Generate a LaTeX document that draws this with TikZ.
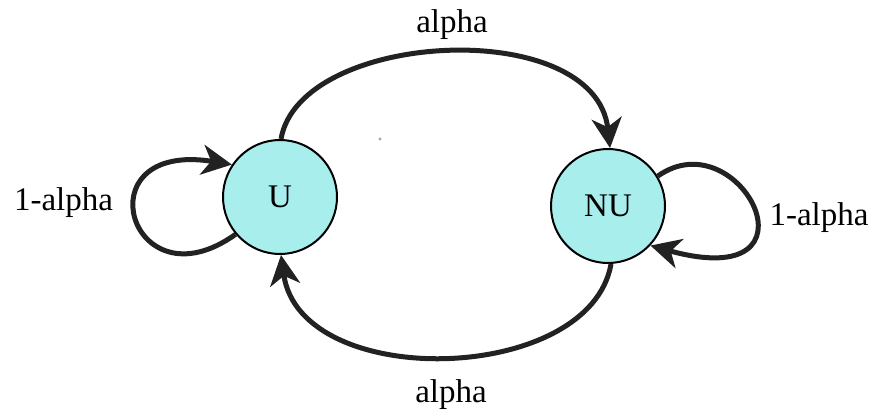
\documentclass[tikz,border=0pt]{standalone}
\usepackage{fontspec}
\setmainfont{Liberation Serif}
\usetikzlibrary{arrows.meta}
\definecolor{statefill}{RGB}{167,238,237}
\definecolor{inkdark}{RGB}{34,34,34}
\begin{document}
\begin{tikzpicture}[x=0.5pt,y=-0.5pt,
  state/.style={circle,draw=black,line width=1pt,fill=statefill,
    minimum size=57pt,inner sep=0pt,font=\fontsize{16.5}{20}\selectfont},
  edge/.style={draw=inkdark,line width=2.5pt,
    -{Stealth[length=15pt,width=15pt,inset=4.5pt]}},
  lbl/.style={anchor=base,inner sep=0pt,font=\fontsize{16.5}{20}\selectfont}]
  \useasboundingbox (0,0) rectangle (876,413);

  % the two states
  \node[state] (U)  at (280,197) {U};
  \node[state] (NU) at (608,206) {NU};

  % transitions between the states
  \draw[edge] (U.89) .. controls (300,30) and (595,15) .. (NU.88);
  \draw[edge] (NU.273) .. controls (590,385) and (300,392) .. (U.271);

  % self loops
  \draw[edge] (U.220) .. controls (130,310) and (80,140) .. (U.146);
  \draw[edge] (NU.31) .. controls (740,118) and (830,295) .. (NU.317);

  % transition labels
  \node[lbl] (atop) at (452,32)  {alpha};
  \node[lbl] (abot) at (451,402) {alpha};
  \node[lbl] (lu)   at (63.5,210) {1-alpha};
  \node[lbl] (lnu)  at (819,225) {1-alpha};

  % small speck
  \fill[gray!70] (380,139) circle (0.8pt);
\end{tikzpicture}
\end{document}
